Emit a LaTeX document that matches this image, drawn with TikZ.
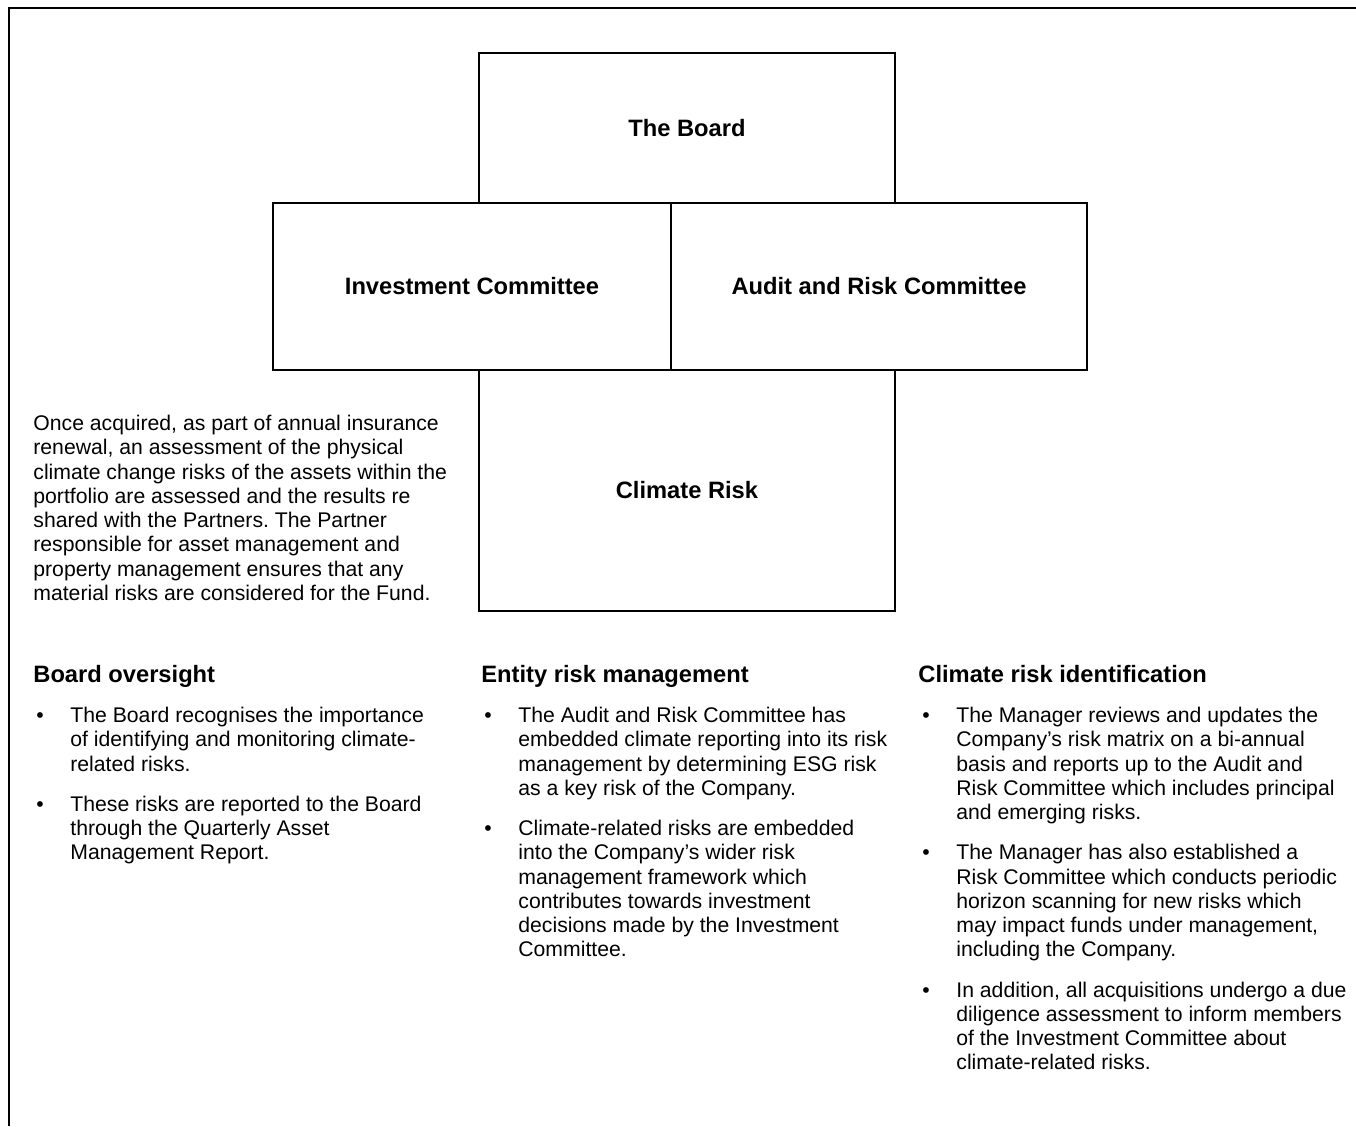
\documentclass[tikz,border=0pt]{standalone}
\usepackage{fontspec}
\setmainfont{Liberation Sans}
\usetikzlibrary{positioning}
\frenchspacing
\newcommand{\bodyfont}{\fontsize{10.6}{12.15}\selectfont}
\newcommand{\titlefont}{\fontsize{11.85}{14}\selectfont\bfseries}

\tikzset{
	box/.style={draw, line width=0.75pt, inner sep=0pt, minimum width=208pt, font=\titlefont},
	head/.style={anchor=base west, inner sep=0pt, font=\titlefont},
	body/.style={anchor=north west, inner sep=0pt, align=left, font=\bodyfont},
	dot/.style={anchor=north west, inner sep=0pt, font=\bodyfont}
}

\begin{document}
\begin{tikzpicture}[x=0.5pt, y=-0.5pt]
			\useasboundingbox (0,0) rectangle (1356,1126);
			% frame
			\draw[line width=1pt] (9,1126) -- (9,7.5) -- (1356,7.5);
			% the four boxes
			\node[box, minimum height=75pt] (board) at (687,128) {The Board};
			\node[box, minimum width=199pt, minimum height=83.5pt] (invc) at (472,286.5) {Investment Committee};
			\node[box, minimum height=83.5pt] (arc) at (879,286.5) {Audit and Risk Committee};
			\node[box, minimum height=120.5pt] (clim) at (687,490.5) {Climate Risk};
			% text left of the climate box
			\node[body] (note) at (33,413) {\strut Once acquired, as part of annual insurance\\
				renewal, an assessment of the physical\\
				climate change risks of the assets within the\\
				portfolio are assessed and the results re\\
				shared with the Partners. The Partner\\
				responsible for asset management and\\
				property management ensures that any\\
				material risks are considered for the Fund.\strut};
			% column 1
			\node[head] (h1) at (33,682) {Board oversight};
			\node[body] (c1a) at (70,705) {\strut The Board recognises the importance\\ of identifying and monitoring climate-\\ related risks.\strut};
			\node[body, below=7.5pt of c1a.south west, anchor=north west] (c1b) {\strut These risks are reported to the Board\\ through the Quarterly Asset\\ Management Report.\strut};
			% column 2
			\node[head] (h2) at (481,682) {Entity risk management};
			\node[body] (c2a) at (518,705) {\strut The Audit and Risk Committee has\\ embedded climate reporting into its risk\\ management by determining ESG risk\\ as a key risk of the Company.\strut};
			\node[body, below=7.5pt of c2a.south west, anchor=north west] (c2b) {\strut Climate-related risks are embedded\\ into the Company’s wider risk\\ management framework which\\ contributes towards investment\\ decisions made by the Investment\\ Committee.\strut};
			% column 3
			\node[head] (h3) at (918,682) {Climate risk identification};
			\node[body] (c3a) at (956,705) {\strut The Manager reviews and updates the\\ Company’s risk matrix on a bi-annual\\ basis and reports up to the Audit and\\ Risk Committee which includes principal\\ and emerging risks.\strut};
			\node[body, below=7.5pt of c3a.south west, anchor=north west] (c3b) {\strut The Manager has also established a\\ Risk Committee which conducts periodic\\ horizon scanning for new risks which\\ may impact funds under management,\\ including the Company.\strut};
			\node[body, below=7.5pt of c3b.south west, anchor=north west] (c3c) {\strut In addition, all acquisitions undergo a due\\ diligence assessment to inform members\\ of the Investment Committee about\\ climate-related risks.\strut};
			% bullets
			\foreach \t in {c1a,c1b,c2a,c2b,c3a,c3b,c3c}
				\node[dot] (\t-dot) at ([xshift=-17pt]\t.north west) {\strut\textbullet};
		\end{tikzpicture}
\end{document}
